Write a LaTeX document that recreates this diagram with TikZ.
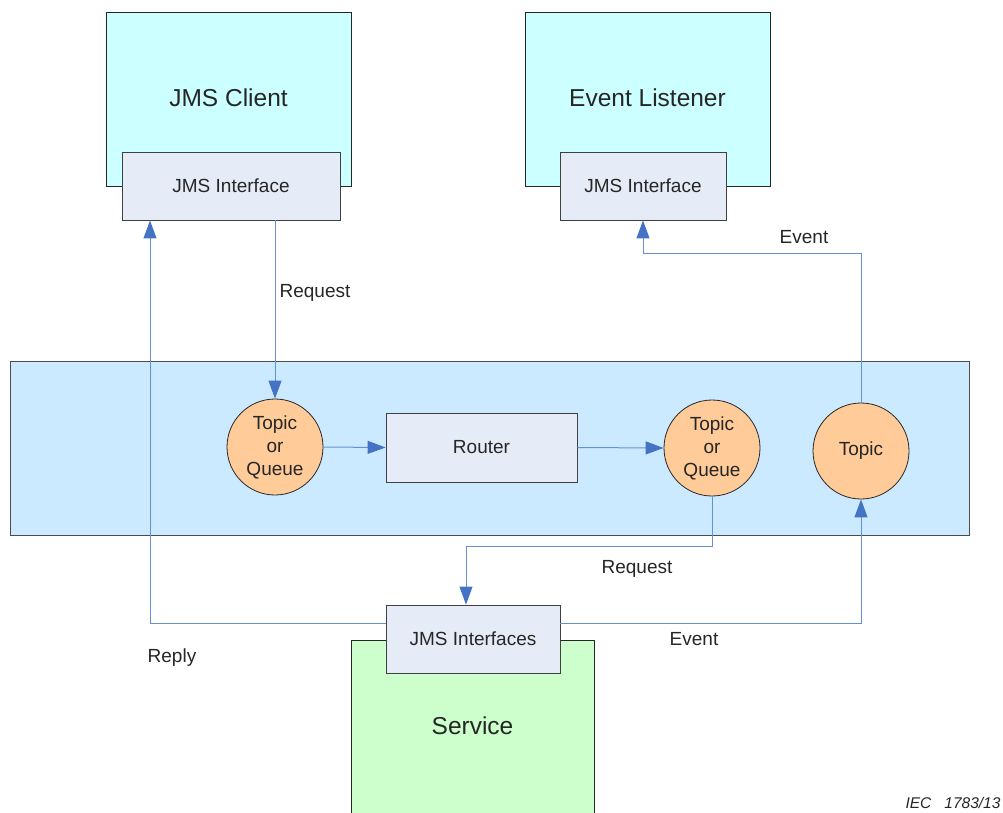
\documentclass[tikz,border=0pt]{standalone}
\usepackage{fontspec}
\setmainfont{Liberation Sans}
\usetikzlibrary{arrows.meta}
\definecolor{clientcyan}{RGB}{204,255,255}
\definecolor{ifacegray}{RGB}{230,236,247}
\definecolor{buscolor}{RGB}{204,234,255}
\definecolor{topicorange}{RGB}{255,204,153}
\definecolor{servicegreen}{RGB}{204,255,204}
\definecolor{flowline}{RGB}{100,145,210}
\definecolor{flowhead}{RGB}{68,114,196}
\tikzset{
    appbox/.style={draw=black!85, line width=0.9pt, fill=clientcyan,
        minimum width=245pt, minimum height=174pt, inner sep=0pt},
    apptitle/.style={font=\fontsize{24.5}{28}\selectfont, text=black!85},
    ifacebox/.style={draw=black!75, line width=0.9pt, fill=ifacegray,
        minimum height=68pt, inner sep=0pt, text=black!85,
        font=\fontsize{19}{22}\selectfont},
    topicnode/.style={circle, draw=black!85, line width=0.8pt, fill=topicorange,
        minimum size=96pt, inner sep=0pt, align=center, text=black!85,
        font=\fontsize{19}{23}\selectfont},
    flow/.style={draw=flowline, line width=1pt,
        -{Triangle[length=18pt,width=13pt,color=flowhead]}},
    flowlabel/.style={font=\fontsize{19}{22}\selectfont, text=black!85}
}
\begin{document}
\begin{tikzpicture}[x=1pt,y=-1pt]
  \useasboundingbox (0,0) rectangle (1003,812);

  % applications at the top
  \node[appbox] (client) at (228.5,99) {};
  \node[apptitle] (clientlbl) at (228.5,98) {JMS Client};
  \node[appbox] (listener) at (647.5,99) {};
  \node[apptitle] (listenerlbl) at (647.5,98) {Event Listener};
  \node[ifacebox, minimum width=218pt] (jmsL) at (231,186) {JMS Interface};
  \node[ifacebox, minimum width=166pt] (jmsR) at (643,186) {JMS Interface};

  % the bus
  \node[draw=black!70, line width=0.9pt, fill=buscolor, minimum width=959pt,
        minimum height=174pt, inner sep=0pt] (bus) at (489.5,448) {};
  \node[topicnode] (q1) at (275,447) {Topic\\or\\Queue};
  \node[ifacebox, minimum width=191pt, minimum height=69pt] (router) at (481.5,447.5) {Router};
  \node[topicnode] (q2) at (712,448) {Topic\\or\\Queue};
  \node[topicnode] (tp) at (861,451) {Topic};

  % service at the bottom
  \node[appbox, fill=servicegreen, minimum width=243pt, minimum height=180pt] (service) at (472.5,730) {};
  \node[apptitle] (servicelbl) at (472.5,726) {Service};
  \node[ifacebox, minimum width=174pt] (jmsS) at (473,639) {JMS Interfaces};

  % bends
  \coordinate (rp) at (150,623);
  \coordinate (rqk) at (466,546);
  \coordinate (evk) at (643,253);

  % connectors
  \draw[flow] (jmsL.south -| q1.north) -- (q1.north);
  \draw[flow] (q1.east) -- (router.west);
  \draw[flow] (router.east) -- (q2.west);
  \draw[flow] (q2.south) |- (rqk) -- (rqk |- jmsS.north);
  \draw[flow] (jmsS.west |- rp) -- (rp) -- (rp |- jmsL.south);
  \draw[flow] (jmsS.east |- rp) -| (tp.south);
  \draw[flow] (tp.north) |- (evk) -- (evk |- jmsR.south);

  % labels
  \node[flowlabel] (lreq1) at (315,293) {Request};
  \node[flowlabel] (lreq2) at (637,569) {Request};
  \node[flowlabel] (lreply) at (172,658) {Reply};
  \node[flowlabel] (lev1) at (694,639) {Event};
  \node[flowlabel] (lev2) at (804,237) {Event};
  \node[font=\fontsize{15.5}{18}\selectfont\itshape, text=black!85] (iec) at (953,803) {IEC\hspace{13pt}1783/13};
\end{tikzpicture}
\end{document}
